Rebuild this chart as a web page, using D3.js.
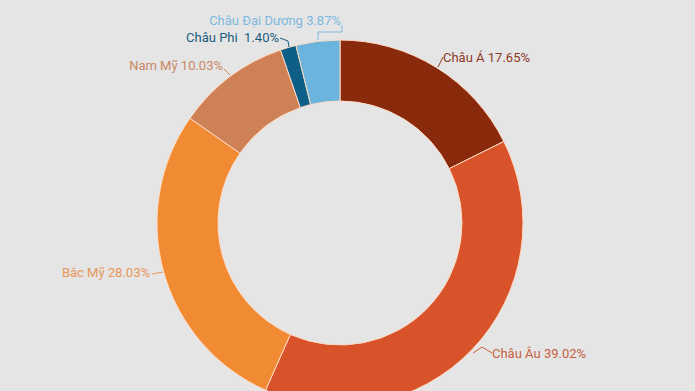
<!DOCTYPE html>
<html><head><meta charset="utf-8">
<script src="https://cdn.jsdelivr.net/npm/d3@7"></script>
<style>
html,body{margin:0;padding:0;background:#e5e5e5;}
svg{display:block;}
text{font-family:Roboto,"Noto Sans",sans-serif;font-size:13px;}
</style></head>
<body>
<svg id="chart" width="695" height="391"></svg>
<script>
const categories = ["Châu Á", "Châu Âu", "Bắc Mỹ", "Nam Mỹ", "Châu Phi", "Châu Đại Dương"];
const values = [17.65, 39.02, 28.03, 10.03, 1.40, 3.87];
const labels = ["Châu Á 17.65%", "Châu Âu 39.02%", "Bắc Mỹ 28.03%", "Nam Mỹ 10.03%", "Châu Phi  1.40%", "Châu Đại Dương 3.87%"];
const sliceColors = ["#8a2a0d", "#d9532a", "#f08b34", "#cf8156", "#0e5f87", "#6ab4de"];
const labelColors = ["#8c3a26", "#c7603f", "#e8965a", "#c98766", "#1b5d7e", "#7db9df"];

const svg = d3.select("#chart");
const cx = 340, cy = 223, R = 183, r = 122;
const g = svg.append("g").attr("transform", `translate(${cx},${cy})`);

const pie = d3.pie().sort(null).value(d => d)(values);
const arc = d3.arc().innerRadius(r).outerRadius(R);

g.selectAll("path.slice").data(pie).enter().append("path")
  .attr("class", "slice")
  .attr("d", arc)
  .attr("fill", (d, i) => sliceColors[i])
  .attr("stroke", "#ffdcc6")
  .attr("stroke-width", 1);

// label layout (offsets relative to chart center)
const labelPos = [
  {x: 103, y: -166, anchor: "start", line: [[98, -156], [103, -166]]},
  {x: 152, y: 130, anchor: "start", line: [[133, 130], [142, 124], [152, 130]]},
  {x: -190, y: 49, anchor: "end", line: [[-188, 51], [-177, 49]]},
  {x: -117, y: -158, anchor: "end", line: [[-116, -154], [-110, -148]]},
  {x: -61, y: -186, anchor: "end", line: [[-60, -185], [-52, -182], [-51, -176]]},
  {x: 1, y: -203, anchor: "end", line: [[-22, -183], [-22, -191], [2, -191], [2, -198]]}
];

const line = d3.line();
labelPos.forEach((p, i) => {
  g.append("path")
    .attr("d", line(p.line))
    .attr("fill", "none")
    .attr("stroke", labelColors[i])
    .attr("stroke-width", 1);
  g.append("text")
    .attr("x", p.x)
    .attr("y", p.y)
    .attr("dy", "0.35em")
    .attr("text-anchor", p.anchor)
    .attr("fill", labelColors[i])
    .attr("xml:space", "preserve")
    .style("white-space", "pre")
    .text(labels[i]);
});
</script>
</body></html>
